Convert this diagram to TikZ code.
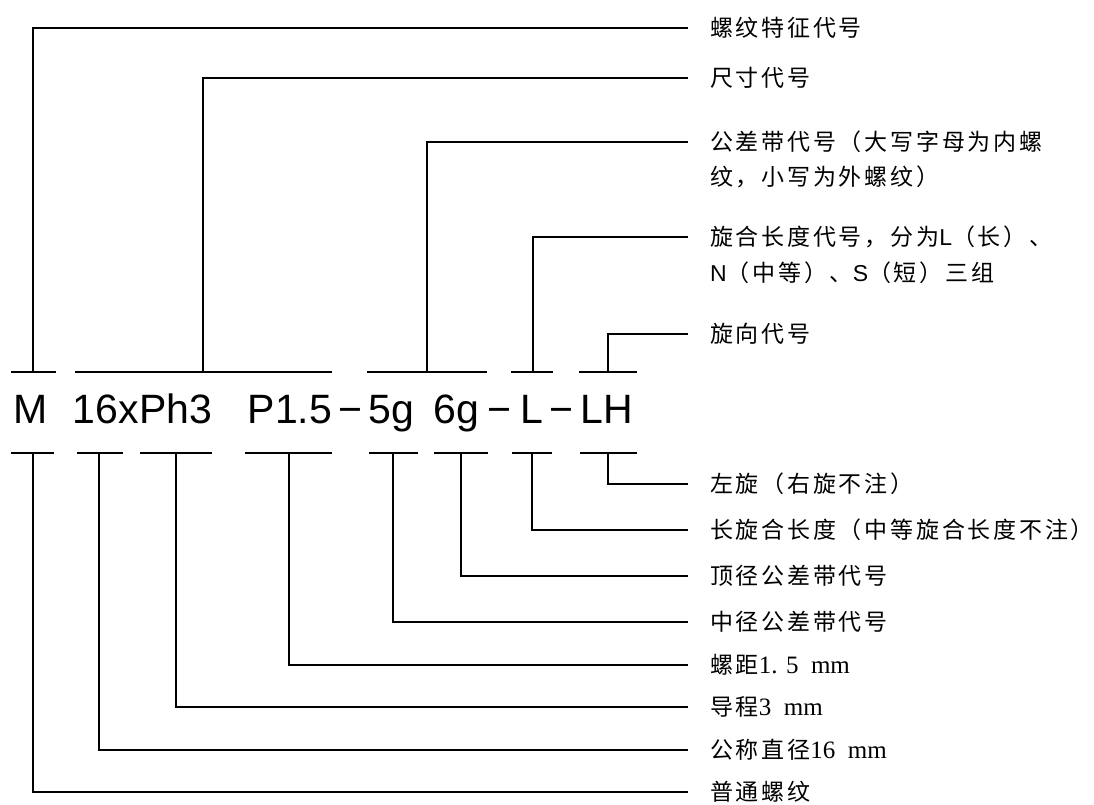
\documentclass[tikz,border=0pt]{standalone}
\usepackage{fontspec}
\setmainfont{Liberation Serif}
\newfontfamily\cjk[LetterSpace=12]{Noto Sans CJK SC}
\newfontfamily\lsans{Liberation Sans}
\newfontfamily\lserif{Liberation Serif}
\newcommand{\sa}[1]{{\lsans #1}}
\newcommand{\se}[1]{{\lserif\fontsize{25}{27}\selectfont #1}}
\tikzset{
  lab/.style={anchor=west, inner sep=0pt, font=\cjk\fontsize{23}{27}\selectfont},
  code/.style={anchor=base, inner sep=0pt, font=\lsans\fontsize{41}{48}\selectfont},
  ln/.style={line width=1.3pt, black},
}
\begin{document}
\begin{tikzpicture}[x=1pt, y=-1pt]
\useasboundingbox (0,0) rectangle (1094,804);
% main designation
\node[code] (cM)  at (30.5,423) {M};
\node[code] (c16) at (142.5,423) {16xPh3};
\node[code] (cP)  at (290,423) {P1.5};
\node[code] (d1)  at (350.5,423) {−};
\node[code] (c5)  at (391.5,423) {5g};
\node[code] (c6)  at (456.5,423) {6g};
\node[code] (d2)  at (499.5,423) {−};
\node[code] (cL)  at (531.5,423) {L};
\node[code] (d3)  at (561.5,423) {−};
\node[code] (cH)  at (606.5,423) {LH};
% top bars
\draw[ln] (11,372)--(56,372) (75,372)--(332,372) (367,372)--(487,372)
          (511,372)--(553,372) (579,372)--(637,372);
% bottom bars
\draw[ln] (11,453)--(54,453) (77,453)--(123,453) (140,453)--(212,453)
          (245,453)--(332,453) (369,453)--(418,453) (434,453)--(488,453)
          (512,453)--(552,453) (580,453)--(637,453);
% tick coordinates
\coordinate (tM) at (33,372);
\coordinate (tS) at (203,372);
\coordinate (tT) at (427,372);
\coordinate (tL) at (533,372);
\coordinate (tH) at (608,372);
\coordinate (bM) at (33,453);
\coordinate (b16) at (99,453);
\coordinate (bPh) at (176,453);
\coordinate (bP) at (289,453);
\coordinate (b5) at (393,453);
\coordinate (b6) at (461,453);
\coordinate (bL) at (532,453);
\coordinate (bH) at (608,453);
% top labels
\node[lab] (L1)  at (710,28)  {螺纹特征代号};
\node[lab] (L2)  at (710,78)  {尺寸代号};
\node[lab] (L3a) at (710,142) {公差带代号（大写字母为内螺};
\node[lab] (L3b) at (710,177) {纹，小写为外螺纹）};
\node[lab] (L4a) at (710,237) {旋合长度代号，分为\sa{L}（长）、};
\node[lab] (L4b) at (710,273) {\sa{N}（中等）、\sa{S}（短）三组};
\node[lab] (L5)  at (710,334) {旋向代号};
% bottom labels
\node[lab] (B1) at (710,484) {左旋（右旋不注）};
\node[lab] (B2) at (710,530) {长旋合长度（中等旋合长度不注）};
\node[lab] (B3) at (710,576) {顶径公差带代号};
\node[lab] (B4) at (710,622) {中径公差带代号};
\node[lab] (B5) at (710,665) {螺距\se{1. 5\ \ mm}};
\node[lab] (B6) at (710,707) {导程\se{3\ \ mm}};
\node[lab] (B7) at (710,750) {公称直径\se{16\ \ mm}};
\node[lab] (B8) at (710,792) {普通螺纹};
% connectors
\draw[ln] (tM) |- ([xshift=-22pt]L1.west);
\draw[ln] (tS) |- ([xshift=-22pt]L2.west);
\draw[ln] (tT) |- ([xshift=-22pt]L3a.west);
\draw[ln] (tL) |- ([xshift=-22pt]L4a.west);
\draw[ln] (tH) |- ([xshift=-22pt]L5.west);
\draw[ln] (bH) |- ([xshift=-22pt]B1.west);
\draw[ln] (bL) |- ([xshift=-22pt]B2.west);
\draw[ln] (b6) |- ([xshift=-22pt]B3.west);
\draw[ln] (b5) |- ([xshift=-22pt]B4.west);
\draw[ln] (bP) |- ([xshift=-22pt]B5.west);
\draw[ln] (bPh) |- ([xshift=-22pt]B6.west);
\draw[ln] (b16) |- ([xshift=-22pt]B7.west);
\draw[ln] (bM) |- ([xshift=-22pt]B8.west);
\end{tikzpicture}
\end{document}
